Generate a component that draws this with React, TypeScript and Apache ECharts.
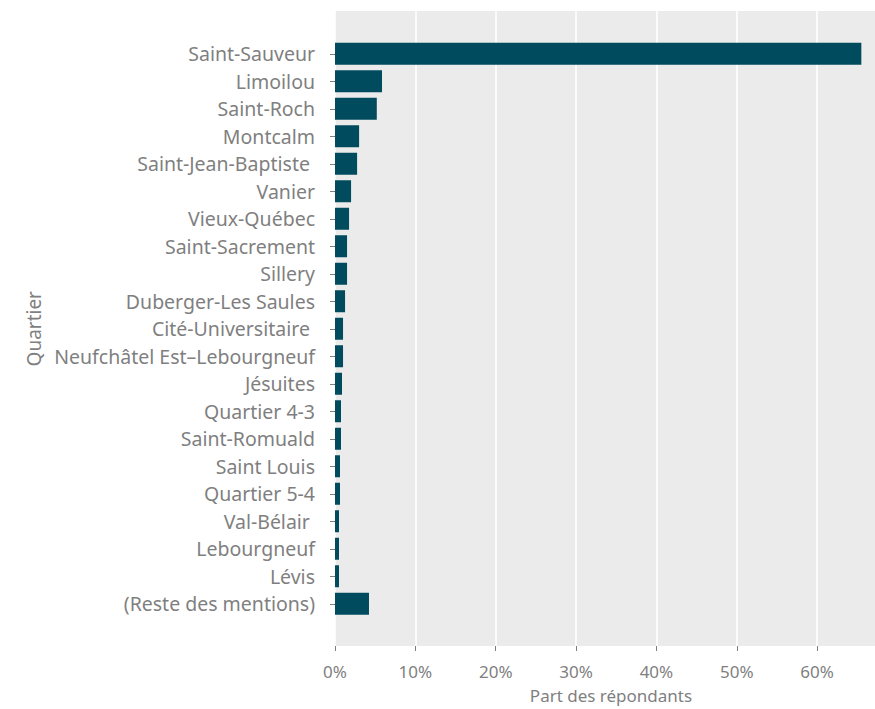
import React, { useEffect, useRef } from "react";
import * as echarts from "echarts";

const categories: string[] = [
  "Saint-Sauveur",
  "Limoilou",
  "Saint-Roch",
  "Montcalm",
  "Saint-Jean-Baptiste ",
  "Vanier",
  "Vieux-Québec",
  "Saint-Sacrement",
  "Sillery",
  "Duberger-Les Saules",
  "Cité-Universitaire ",
  "Neufchâtel Est–Lebourgneuf",
  "Jésuites",
  "Quartier 4-3",
  "Saint-Romuald",
  "Saint Louis",
  "Quartier 5-4",
  "Val-Bélair ",
  "Lebourgneuf",
  "Lévis",
  "(Reste des mentions)",
];

const shares: number[] = [
  65.5, 5.85, 5.2, 3.0, 2.75, 2.0, 1.75, 1.5, 1.5, 1.25, 1.0, 1.0, 0.87, 0.75,
  0.75, 0.62, 0.62, 0.5, 0.5, 0.5, 4.23,
];

const xTicks: number[] = [0, 10, 20, 30, 40, 50, 60];

const FONT = "Noto Sans";
const GRAY = "#7f7f7f";
const BAR = "#004b5e";
const X_MAX = 67.2;

export default function App() {
  const ref = useRef<HTMLDivElement>(null);

  useEffect(() => {
    if (!ref.current) return;
    const chart = echarts.init(ref.current, undefined, { renderer: "svg" });
    chart.setOption({
      animation: false,
      backgroundColor: "#ffffff",
      textStyle: { fontFamily: FONT },
      grid: [
        {
          left: 335,
          width: 540,
          top: 11,
          bottom: 63,
          show: true,
          backgroundColor: "#ebebeb",
          borderWidth: 0,
        },
        {
          left: 335,
          width: 540,
          top: 40,
          height: 577.5,
          show: false,
        },
      ],
      xAxis: [
        {
          type: "value",
          gridIndex: 0,
          min: 0,
          max: X_MAX,
          interval: 10,
          offset: 6,
          axisLine: { show: false },
          axisTick: {
            show: true,
            length: 5,
            lineStyle: { color: GRAY, width: 1 },
            customValues: xTicks,
          },
          axisLabel: {
            color: GRAY,
            fontSize: 17,
            fontFamily: FONT,
            margin: 11,
            customValues: xTicks,
            formatter: (v: number) => `${v}%`,
          },
          splitLine: {
            show: true,
            lineStyle: { color: "#ffffff", width: 1.6 },
          },
          name: "Part des répondants",
          nameLocation: "middle",
          nameGap: 35,
          nameTextStyle: {
            color: GRAY,
            fontSize: 17,
            fontFamily: FONT,
            padding: [0, 0, 0, 12],
          },
        },
        {
          type: "value",
          gridIndex: 1,
          min: 0,
          max: X_MAX,
          show: false,
        },
      ],
      yAxis: [
        {
          type: "value",
          gridIndex: 0,
          show: false,
        },
        {
          type: "category",
          gridIndex: 1,
          data: categories,
          inverse: true,
          offset: 7,
          axisLine: { show: false },
          axisTick: {
            show: true,
            length: 5,
            alignWithLabel: true,
            lineStyle: { color: GRAY, width: 1 },
          },
          axisLabel: {
            color: GRAY,
            fontSize: 19.5,
            fontFamily: FONT,
            margin: 13,
            interval: 0,
          },
          splitLine: { show: false },
          name: "Quartier",
          nameLocation: "middle",
          nameGap: 282,
          nameRotate: 90,
          nameTextStyle: {
            color: GRAY,
            fontSize: 19,
            fontFamily: FONT,
          },
        },
      ],
      series: [
        {
          type: "bar",
          xAxisIndex: 1,
          yAxisIndex: 1,
          data: shares,
          barCategoryGap: "20%",
          itemStyle: { color: BAR },
        },
      ],
    });
    return () => chart.dispose();
  }, []);

  return (
    <div
      ref={ref}
      style={{ position: "fixed", left: 0, top: 0, width: 875, height: 709 }}
    />
  );
}
